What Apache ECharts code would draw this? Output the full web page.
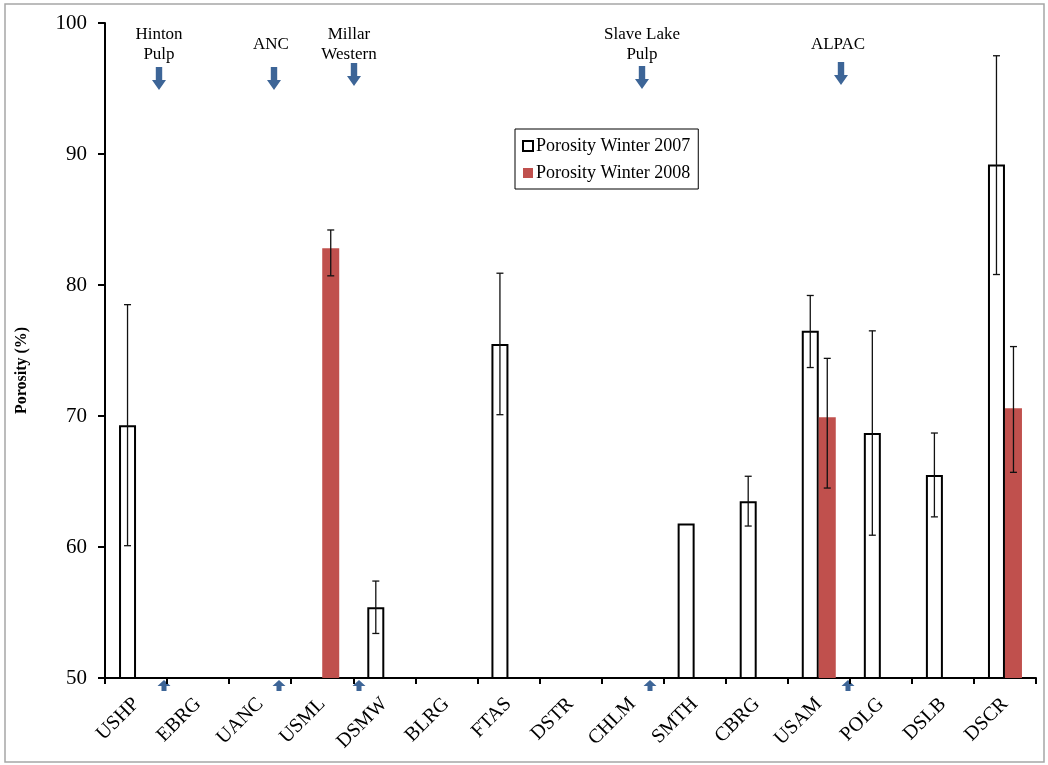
<!DOCTYPE html>
<html>
<head>
<meta charset="utf-8">
<script src="https://cdn.jsdelivr.net/npm/echarts@6/dist/echarts.min.js"></script>
<style>
html,body{margin:0;padding:0;background:#fff;}
#chart{width:1048px;height:765px;}
</style>
</head>
<body>
<div id="chart"></div>
<script>
// ---- data ----
const categories = ['USHP','EBRG','UANC','USML','DSMW','BLRG','FTAS','DSTR','CHLM','SMTH','CBRG','USAM','POLG','DSLB','DSCR'];
const winter2007 = [69.3, null, null, null, 55.4, null, 75.5, null, null, 61.8, 63.5, 76.5, 68.7, 65.5, 89.2];
const low2007    = [60.1, null, null, null, 53.4, null, 70.1, null, null, null, 61.6, 73.7, 60.9, 62.3, 80.8];
const high2007   = [78.5, null, null, null, 57.4, null, 80.9, null, null, null, 65.4, 79.2, 76.5, 68.7, 97.5];
const winter2008 = [null, null, null, 82.8, null, null, null, null, null, null, null, 69.9, null, null, 70.6];
const low2008    = [null, null, null, 80.7, null, null, null, null, null, null, null, 64.5, null, null, 65.7];
const high2008   = [null, null, null, 84.2, null, null, null, null, null, null, null, 74.4, null, null, 75.3];
const yTicks = [50, 60, 70, 80, 90, 100];
const seriesNames = ['Porosity Winter 2007', 'Porosity Winter 2008'];
const mills = ['Hinton\nPulp', 'ANC', 'Millar\nWestern', 'Slave Lake\nPulp', 'ALPAC'];

const FONT = '"Liberation Serif","Times New Roman",serif';
const ARROW = '#3D6597';
const BARW = 17;

function errData(lo, hi) {
  const out = [];
  lo.forEach((v, i) => { if (v != null && hi[i] != null) out.push([i, v, hi[i]]); });
  return out;
}
function errRender(offset) {
  return function (params, api) {
    const i = api.value(0);
    const pLo = api.coord([i, api.value(1)]);
    const pHi = api.coord([i, api.value(2)]);
    const x = pLo[0] + offset;
    const cap = 3.5;
    const st = {stroke: '#111', lineWidth: 1.3};
    return {
      type: 'group',
      children: [
        {type: 'line', shape: {x1: x, y1: pLo[1], x2: x, y2: pHi[1]}, style: st},
        {type: 'line', shape: {x1: x - cap, y1: pHi[1], x2: x + cap, y2: pHi[1]}, style: st},
        {type: 'line', shape: {x1: x - cap, y1: pLo[1], x2: x + cap, y2: pLo[1]}, style: st}
      ]
    };
  };
}

function downArrow(cx, top, bottom) {
  const hw = 3.2, hh = 7, headH = 10;
  const sb = bottom - headH;
  return {
    type: 'polygon', silent: true,
    shape: {points: [[cx - hw, top], [cx + hw, top], [cx + hw, sb], [cx + hh, sb], [cx, bottom], [cx - hh, sb], [cx - hw, sb]]},
    style: {fill: ARROW}
  };
}
function upArrow(cx, top, bottom) {
  const hw = 2.5, hh = 6.5, headH = 6;
  const sb = top + headH;
  return {
    type: 'polygon', silent: true,
    shape: {points: [[cx, top], [cx + hh, sb], [cx + hw, sb], [cx + hw, bottom], [cx - hw, bottom], [cx - hw, sb], [cx - hh, sb]]},
    style: {fill: ARROW}
  };
}
const downX = [159, 274, 354, 642, 841];
const downTop = [67, 67, 63, 66, 62];
const labelX = [159, 271, 349, 642, 838];
const labelY = [25, 35, 25, 25, 35];
const upX = [164, 279, 359, 650, 848];

const graphics = [
  {type: 'rect', silent: true, shape: {x: 5, y: 4, width: 1039, height: 758}, style: {fill: 'none', stroke: '#A6A6A6', lineWidth: 1.5}, z: -1}
];
mills.forEach((m, k) => {
  graphics.push(downArrow(downX[k], downTop[k], downTop[k] + 23));
  graphics.push(upArrow(upX[k], 680, 691));
  graphics.push({
    type: 'text', silent: true, x: labelX[k], y: labelY[k],
    style: {text: m, font: '17px ' + FONT, fill: '#000', align: 'center', verticalAlign: 'top', lineHeight: 20}
  });
});

const chart = echarts.init(document.getElementById('chart'));
chart.setOption({
  animation: false,
  backgroundColor: '#fff',
  grid: {left: 105, right: 12, top: 23, bottom: 87, containLabel: false},
  legend: {
    data: seriesNames,
    orient: 'vertical',
    left: 515, top: 129,
    icon: 'rect',
    itemWidth: 10, itemHeight: 10,
    itemGap: 9,
    padding: [8, 8, 7, 7],
    borderColor: '#000', borderWidth: 1,
    backgroundColor: '#fff',
    textStyle: {fontFamily: FONT, fontSize: 18, color: '#000', padding: [0, 0, 0, -2]}
  },
  xAxis: {
    type: 'category',
    data: categories,
    axisLine: {lineStyle: {color: '#000', width: 2}},
    axisTick: {show: true, length: 6, lineStyle: {color: '#000', width: 2}},
    axisLabel: {rotate: 45, fontFamily: FONT, fontSize: 20, color: '#000', margin: 23, interval: 0}
  },
  yAxis: {
    type: 'value',
    min: yTicks[0], max: yTicks[yTicks.length - 1], interval: 10,
    name: 'Porosity (%)',
    nameLocation: 'middle',
    nameGap: 75,
    nameTextStyle: {fontFamily: FONT, fontSize: 16, fontWeight: 'bold', color: '#000', padding: [0, 40, 0, 0]},
    axisLine: {show: true, lineStyle: {color: '#000', width: 2}},
    axisTick: {show: true, length: 7, lineStyle: {color: '#000', width: 2}},
    splitLine: {show: false},
    axisLabel: {fontFamily: FONT, fontSize: 21, color: '#000', margin: 18}
  },
  series: [
    {
      name: seriesNames[0], type: 'bar', data: winter2007, barWidth: BARW, barGap: '0%',
      itemStyle: {color: '#fff', borderColor: '#000', borderWidth: 2}
    },
    {
      name: seriesNames[1], type: 'bar', data: winter2008, barWidth: BARW, barGap: '0%',
      itemStyle: {color: '#C0504D'}
    },
    {
      type: 'custom', renderItem: errRender(-BARW / 2), data: errData(low2007, high2007), z: 10,
      encode: {x: 0, y: [1, 2]}, silent: true
    },
    {
      type: 'custom', renderItem: errRender(BARW / 2), data: errData(low2008, high2008), z: 10,
      encode: {x: 0, y: [1, 2]}, silent: true
    }
  ],
  graphic: graphics
});
</script>
</body>
</html>
